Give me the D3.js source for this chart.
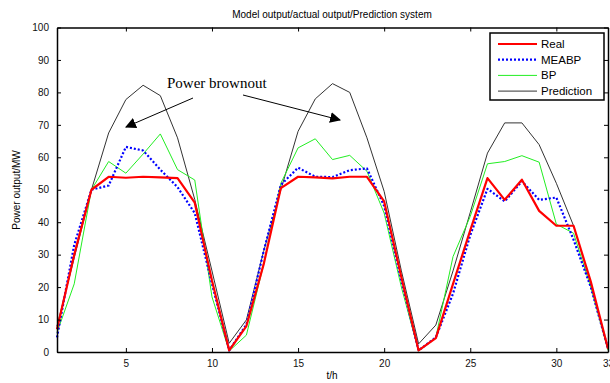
<!DOCTYPE html>
<html>
<head>
<meta charset="utf-8">
<script src="https://cdn.jsdelivr.net/npm/d3@7"></script>
<style>
  body { margin: 0; background: #fff; }
  svg { font-family: "Liberation Sans", Arial, sans-serif; }
</style>
</head>
<body>
<svg id="chart" width="610" height="383"></svg>
<script>
// hours 1..33
const hours = d3.range(1, 34);
const real = [7, 30, 50, 54, 53.7, 54, 53.8, 53.6, 46, 22, 0.5, 8, 27, 50.5, 54, 53.8, 53.5, 54, 54, 46.4, 23, 0.5, 4.3, 21, 37.5, 53.6, 46.9, 53.1, 43.5, 38.9, 38.9, 21.7, 1];
const meabp = [4.5, 33, 50, 51.3, 63.2, 62.1, 56.2, 50.8, 42.8, 21, 0.5, 8.5, 31, 51.5, 56.8, 54, 53.9, 56, 56.6, 45, 22, 0.5, 4.5, 18, 36, 50.3, 46.4, 52.6, 46.9, 47.6, 34.6, 20, 1];
const bp = [6, 21, 50, 58.7, 55.1, 61, 67.2, 56.2, 53, 17, 0.3, 5.2, 27, 52, 62.9, 65.7, 59.3, 60.6, 55.7, 42.8, 20, 0.3, 4.5, 29.4, 41.8, 58, 58.7, 60.5, 58.5, 39.4, 36.6, 20, 0.5];
const prediction = [8, 29, 50, 67.5, 77.8, 82.2, 79, 66, 47, 25, 2.7, 9.9, 31, 50, 68, 78, 82.7, 80, 66, 49.5, 25, 2.5, 8.3, 25, 43, 61.3, 70.6, 70.6, 63.9, 52, 38.9, 21, 1];
const seriesNames = ["Real", "MEABP", "BP", "Prediction"];
const xTicks = [5, 10, 15, 20, 25, 30, 33];
const yTicks = d3.range(0, 101, 10);

const svg = d3.select("#chart");
const padL = 57, padR = 608, padT = 27.5, padB = 352;

const x = d3.scaleLinear().domain([1, 33]).range([padL, padR]);
const y = d3.scaleLinear().domain([0, 100]).range([padB, padT]);

const styles = {
  Real: { data: real, color: "#ff0000", width: 2.2, dash: null },
  MEABP: { data: meabp, color: "#0000ff", width: 2.2, dash: "2,2" },
  BP: { data: bp, color: "#22ee22", width: 1, dash: null },
  Prediction: { data: prediction, color: "#333333", width: 1, dash: null }
};

// lines, drawn so red sits on top like the original
const line = d3.line().x((d, i) => x(hours[i])).y(d => y(d));
["Prediction", "BP", "MEABP", "Real"].forEach(name => {
  const s = styles[name];
  svg.append("path")
    .datum(s.data)
    .attr("fill", "none")
    .attr("stroke", s.color)
    .attr("stroke-width", s.width)
    .attr("stroke-dasharray", s.dash)
    .attr("stroke-linejoin", "round")
    .attr("d", line);
});

// axes, matlab-style box with inward ticks
const fmt = d3.format("d");
svg.append("g").attr("transform", `translate(0,${padB})`)
  .call(d3.axisBottom(x).tickValues(xTicks).tickSize(-4).tickSizeOuter(0).tickPadding(8).tickFormat(fmt));
svg.append("g").attr("transform", `translate(0,${padT})`)
  .call(d3.axisTop(x).tickValues(xTicks).tickSize(-4).tickSizeOuter(0).tickFormat(""));
svg.append("g").attr("transform", `translate(${padL},0)`)
  .call(d3.axisLeft(y).tickValues(yTicks).tickSize(-4).tickSizeOuter(0).tickPadding(8).tickFormat(fmt));
svg.append("g").attr("transform", `translate(${padR},0)`)
  .call(d3.axisRight(y).tickValues(yTicks).tickSize(-4).tickSizeOuter(0).tickFormat(""));

svg.selectAll(".tick text").attr("font-size", 10).attr("fill", "#111")
  .attr("font-family", "Liberation Sans, Arial, sans-serif");
svg.selectAll(".domain").attr("stroke", "#000").attr("stroke-width", 1.5);

// titles
svg.append("text").attr("x", 332).attr("y", 18).attr("text-anchor", "middle")
  .attr("font-size", 10).text("Model output/actual output/Prediction system");
svg.append("text").attr("x", 332).attr("y", 379).attr("text-anchor", "middle")
  .attr("font-size", 10).text("t/h");
svg.append("text").attr("transform", "translate(20,190) rotate(-90)").attr("text-anchor", "middle")
  .attr("font-size", 10).text("Power output/MW");

// annotation
svg.append("defs").append("marker")
  .attr("id", "head").attr("viewBox", "0 0 10 10").attr("refX", 9).attr("refY", 5)
  .attr("markerWidth", 11).attr("markerHeight", 11).attr("markerUnits", "userSpaceOnUse")
  .attr("orient", "auto")
  .append("path").attr("d", "M0,0L10,5L0,10Z").attr("fill", "#000");
svg.append("text").attr("x", 167).attr("y", 88).attr("font-size", 15)
  .attr("font-family", "Liberation Serif, Times New Roman, serif").text("Power brownout");
svg.append("line").attr("x1", 193).attr("y1", 98).attr("x2", 126).attr("y2", 127)
  .attr("stroke", "#000").attr("stroke-width", 1).attr("marker-end", "url(#head)");
svg.append("line").attr("x1", 243).attr("y1", 95).attr("x2", 340).attr("y2", 120)
  .attr("stroke", "#000").attr("stroke-width", 1).attr("marker-end", "url(#head)");

// legend
const lg = svg.append("g");
lg.append("rect").attr("x", 490).attr("y", 33).attr("width", 114).attr("height", 67)
  .attr("fill", "#fff").attr("stroke", "#000").attr("stroke-width", 1.5);
seriesNames.forEach((name, i) => {
  const s = styles[name];
  const ly = 44 + i * 15.7;
  lg.append("line").attr("x1", 498).attr("x2", 537).attr("y1", ly).attr("y2", ly)
    .attr("stroke", s.color).attr("stroke-width", s.width).attr("stroke-dasharray", s.dash);
  lg.append("text").attr("x", 541).attr("y", ly + 4).attr("font-size", 11.5).text(name);
});
</script>
</body>
</html>
